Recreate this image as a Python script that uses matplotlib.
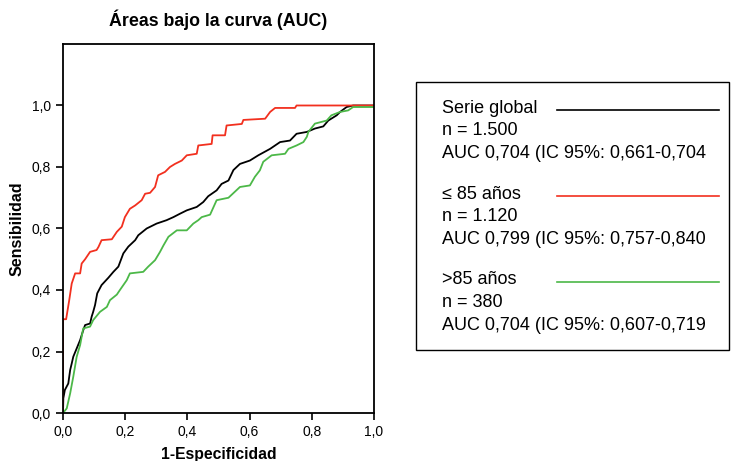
import numpy as np
import matplotlib.pyplot as plt
from matplotlib.patches import Rectangle
from matplotlib.lines import Line2D
from matplotlib.ticker import FuncFormatter

plt.rcParams['font.family'] = ['Liberation Sans', 'DejaVu Sans']

# ROC: serie global
x_global = [0.0, 0.001, 0.006, 0.017, 0.023, 0.028, 0.033, 0.044, 0.055, 0.065, 0.071, 0.087, 0.092,
            0.097, 0.103, 0.110, 0.124, 0.146, 0.162, 0.178, 0.194, 0.210, 0.232, 0.242, 0.269,
            0.301, 0.333, 0.355, 0.376, 0.398, 0.430, 0.451, 0.467, 0.494, 0.510, 0.532, 0.548,
            0.569, 0.601, 0.628, 0.666, 0.698, 0.730, 0.751, 0.784, 0.810, 0.837, 0.853, 0.880,
            0.891, 0.912, 0.933, 1.0]
y_global = [0.0, 0.048, 0.075, 0.096, 0.140, 0.161, 0.183, 0.210, 0.237, 0.269, 0.286, 0.291, 0.313,
            0.329, 0.351, 0.389, 0.416, 0.440, 0.459, 0.476, 0.519, 0.541, 0.562, 0.578, 0.600,
            0.616, 0.627, 0.637, 0.648, 0.659, 0.670, 0.686, 0.705, 0.724, 0.745, 0.756, 0.790,
            0.810, 0.821, 0.838, 0.859, 0.881, 0.886, 0.908, 0.914, 0.925, 0.932, 0.951, 0.968,
            0.979, 0.995, 1.0, 1.0]

# <= 85 años
x_menor = [0.0, 0.0, 0.010, 0.020, 0.028, 0.039, 0.055, 0.060, 0.071, 0.087, 0.108, 0.114, 0.124,
           0.157, 0.173, 0.189, 0.199, 0.215, 0.232, 0.253, 0.264, 0.280, 0.296, 0.306, 0.328,
           0.344, 0.360, 0.382, 0.398, 0.430, 0.435, 0.478, 0.481, 0.521, 0.526, 0.575, 0.580,
           0.650, 0.666, 0.682, 0.746, 0.751, 1.0]
y_menor = [0.0, 0.305, 0.305, 0.367, 0.421, 0.454, 0.454, 0.486, 0.500, 0.524, 0.530, 0.540, 0.562,
           0.565, 0.589, 0.606, 0.637, 0.664, 0.675, 0.692, 0.713, 0.716, 0.735, 0.773, 0.784,
           0.800, 0.810, 0.821, 0.838, 0.843, 0.870, 0.875, 0.903, 0.903, 0.935, 0.940, 0.953,
           0.957, 0.979, 0.992, 0.992, 1.0, 1.0]

# > 85 años
x_mayor = [0.0, 0.012, 0.023, 0.033, 0.044, 0.055, 0.065, 0.087, 0.097, 0.119, 0.141, 0.151, 0.173,
           0.183, 0.205, 0.215, 0.258, 0.274, 0.296, 0.312, 0.323, 0.339, 0.366, 0.398, 0.419,
           0.435, 0.446, 0.473, 0.494, 0.532, 0.569, 0.601, 0.617, 0.633, 0.644, 0.671, 0.714,
           0.725, 0.751, 0.773, 0.784, 0.789, 0.810, 0.848, 0.863, 0.891, 0.917, 0.933, 1.0]
y_mayor = [0.0, 0.015, 0.064, 0.118, 0.183, 0.221, 0.275, 0.281, 0.302, 0.329, 0.345, 0.367, 0.385,
           0.400, 0.432, 0.454, 0.459, 0.476, 0.497, 0.524, 0.545, 0.573, 0.594, 0.594, 0.616,
           0.627, 0.637, 0.645, 0.692, 0.700, 0.735, 0.740, 0.768, 0.789, 0.817, 0.838, 0.843,
           0.859, 0.870, 0.881, 0.898, 0.914, 0.941, 0.951, 0.968, 0.979, 0.984, 0.995, 0.995]

leyenda = [("Serie global", "n = 1.500", "AUC 0,704 (IC 95%: 0,661-0,704", "black"),
           ("\u2264 85 años", "n = 1.120", "AUC 0,799 (IC 95%: 0,757-0,840", "#f2301f"),
           (">85 años", "n = 380", "AUC 0,704 (IC 95%: 0,607-0,719", "#4cb848")]

fig = plt.figure(figsize=(7.31, 4.61), dpi=100)
ax = fig.add_axes([0.0862, 0.1041, 0.4254, 0.8005])

ax.plot(x_global, y_global, color="black", lw=1.3)
ax.plot(x_menor, y_menor, color="#f2301f", lw=1.3)
ax.plot(x_mayor, y_mayor, color="#4cb848", lw=1.3)

ax.set_xlim(0, 1.0)
ax.set_ylim(0, 1.2)
ax.set_xticks(np.arange(0, 1.01, 0.2))
ax.set_yticks(np.arange(0, 1.01, 0.2))
fmt = FuncFormatter(lambda v, p: f"{v:.1f}".replace(".", ","))
ax.xaxis.set_major_formatter(fmt)
ax.yaxis.set_major_formatter(fmt)
ax.tick_params(direction="out", length=5, width=1.2, labelsize=10)
for s in ax.spines.values():
    s.set_linewidth(1.3)

ax.set_title("Áreas bajo la curva (AUC)", fontsize=12.8, fontweight="bold", pad=13)
ax.set_ylabel("Sensibilidad", fontsize=11.5, fontweight="bold", labelpad=5)
ax.set_xlabel("1-Especificidad", fontsize=11.3, fontweight="bold", labelpad=6)

# caja de leyenda
W, H = 731, 461
fig.patches.append(Rectangle((416 / W, 1 - 350 / H), 313 / W, 268 / H, transform=fig.transFigure,
                             fill=False, edgecolor="black", lw=1.0))
y0 = 108
for i, (nombre, n, auc, col) in enumerate(leyenda):
    yb = y0 + i * 86
    for j, t in enumerate([nombre, n, auc]):
        fig.text(442 / W, 1 - (yb + j * 22.5) / H, t, fontsize=13, va="center", ha="left")
    fig.add_artist(Line2D([557 / W, 719 / W], [1 - (yb + 2) / H] * 2, color=col, lw=1.2,
                          transform=fig.transFigure))

fig.savefig("out.png", dpi=100)
